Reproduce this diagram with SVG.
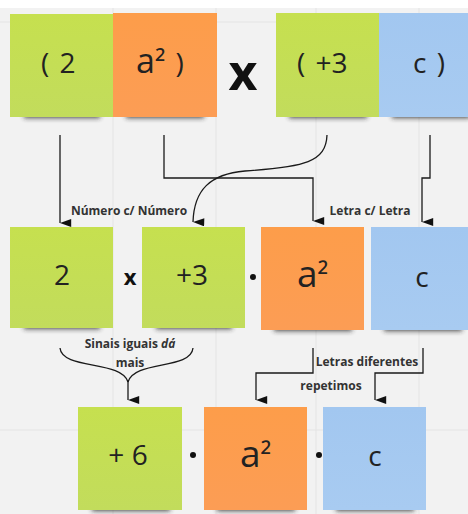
<svg xmlns="http://www.w3.org/2000/svg" width="468" height="514" viewBox="0 0 468 514">
<defs>
<filter id="sh" x="-30%" y="-100%" width="160%" height="300%"><feGaussianBlur stdDeviation="2.5"/></filter>
<marker id="ah" viewBox="0 0 10 14" refX="5" refY="14" markerWidth="8" markerHeight="12" markerUnits="userSpaceOnUse" orient="auto-start-reverse"><path d="M0,0 L10,0 L5,14 Z" fill="#111"/></marker>
<linearGradient id="gg" x1="0" y1="0" x2="0" y2="1"><stop offset="0" stop-color="#c6e04f"/><stop offset="1" stop-color="#c2dc5c"/></linearGradient>
<linearGradient id="go" x1="0" y1="0" x2="0" y2="1"><stop offset="0" stop-color="#fd9d4a"/><stop offset="1" stop-color="#fc9d55"/></linearGradient>
<linearGradient id="gb" x1="0" y1="0" x2="0" y2="1"><stop offset="0" stop-color="#a2c7f0"/><stop offset="1" stop-color="#a8cbf1"/></linearGradient>
</defs>
<style>
.g{fill:url(#gg)}.o{fill:url(#go)}.b{fill:url(#gb)}
.s{fill:#2a2a2a;opacity:.85;filter:url(#sh)}
.t{font-family:"Open Sans","DejaVu Sans",sans-serif;font-size:28px;fill:#222;text-anchor:middle}
.ts{font-family:"Open Sans","DejaVu Sans",sans-serif;font-size:28px;fill:#222;text-anchor:start;word-spacing:3px}
.lb{font-family:"Open Sans","DejaVu Sans",sans-serif;font-size:12px;font-weight:700;fill:#333;text-anchor:middle}
.op{font-family:"Open Sans","Liberation Sans",sans-serif;font-weight:700;fill:#111;text-anchor:middle}
.c{fill:none;stroke:#1a1a1a;stroke-width:1.3}
.a{marker-end:url(#ah)}
.grid{stroke:#e4e4e4;stroke-width:1}
</style>
<rect width="468" height="514" fill="#f2f2f2"/>
<rect width="468" height="8" fill="#ffffff"/>
<g class="grid">
<line x1="113" y1="8" x2="113" y2="514"/><line x1="216" y1="8" x2="216" y2="514"/><line x1="316" y1="8" x2="316" y2="514"/><line x1="419" y1="8" x2="419" y2="514"/>
<line x1="0" y1="22" x2="468" y2="22"/><line x1="0" y1="430" x2="468" y2="430"/>
</g>
<g id="n1"><rect class="s" x="24" y="112" width="76" height="6"/><rect class="g" x="10" y="14" width="103" height="103"/><text class="ts" x="41" y="73">( 2</text></g>
<g id="n2"><rect class="s" x="126" y="112" width="78" height="6"/><rect class="o" x="113" y="13" width="104" height="104"/><text class="ts" x="136" y="73"><tspan font-size="34">a</tspan><tspan font-size="30">²</tspan> )</text></g>
<g id="times1"><text class="op" x="243" y="90" font-size="50">x</text></g>
<g id="n3"><rect class="s" x="289" y="112" width="78" height="6"/><rect class="g" x="276" y="13" width="103" height="104"/><text class="ts" x="297" y="73">( +3</text></g>
<g id="n4"><rect class="s" x="392" y="112" width="78" height="6"/><rect class="b" x="379" y="13" width="103" height="104"/><text class="ts" x="413" y="73">c )</text></g>
<g id="m1"><rect class="s" x="24" y="323" width="76" height="6"/><rect class="g" x="10" y="227" width="103" height="101"/><text class="t" x="62" y="285">2</text></g>
<g id="times2"><text class="op" x="130" y="285" font-size="22">x</text></g>
<g id="m2"><rect class="s" x="156" y="323" width="76" height="6"/><rect class="g" x="142" y="227" width="103" height="101"/><text class="t" x="192" y="285" font-size="30">+3</text></g>
<g id="dot1"><circle cx="253" cy="277" r="3" fill="#111"/></g>
<g id="m3"><rect class="s" x="274" y="325" width="78" height="6"/><rect class="o" x="261" y="227" width="103" height="103"/><text class="ts" x="297" y="287"><tspan font-size="37">a</tspan><tspan font-size="31">²</tspan></text></g>
<g id="m4"><rect class="s" x="384" y="325" width="78" height="6"/><rect class="b" x="371" y="227" width="103" height="103"/><text class="t" x="422" y="287" font-size="30">c</text></g>
<g id="b1"><rect class="s" x="92" y="505" width="78" height="6"/><rect class="g" x="78" y="407" width="104" height="103"/><text class="t" x="128" y="465" font-size="31">+ 6</text></g>
<g id="dot2"><circle cx="193" cy="455" r="3" fill="#111"/></g>
<g id="b2"><rect class="s" x="217" y="505" width="78" height="6"/><rect class="o" x="204" y="407" width="103" height="103"/><text class="ts" x="240" y="467"><tspan font-size="37">a</tspan><tspan font-size="31">²</tspan></text></g>
<g id="dot3"><circle cx="319" cy="455" r="3" fill="#111"/></g>
<g id="b3"><rect class="s" x="336" y="505" width="78" height="6"/><rect class="b" x="323" y="407" width="103" height="103"/><text class="t" x="375" y="466" font-size="31">c</text></g>
<g id="connectors">
<path class="c a" d="M60,135 V223"/>
<path class="c a" d="M164,135 V178 H313 V221"/>
<path class="c a" d="M327,135 C326,162 305,167 245,171 C210,174 194,190 193,222"/>
<path class="c a" d="M430,135 V178 H422 V222"/>
<path class="c" d="M60,348 C62,370 122,360 128,382"/>
<path class="c" d="M193,348 C191,370 134,360 128,382"/>
<path class="c a" d="M128,380 V400"/>
<path class="c a" d="M313,348 V373 H256 V400"/>
<path class="c a" d="M423,348 V373 H375 V400"/>
</g>
<g id="labels">
<text class="lb" x="129" y="215">Número c/ Número</text>
<text class="lb" x="370" y="215">Letra c/ Letra</text>
<text class="lb" x="130" y="348">Sinais iguais <tspan font-style="italic">dá</tspan></text>
<text class="lb" x="130" y="367">mais</text>
<text class="lb" x="367" y="366">Letras diferentes</text>
<text class="lb" x="331" y="390">repetimos</text>
</g>
</svg>
